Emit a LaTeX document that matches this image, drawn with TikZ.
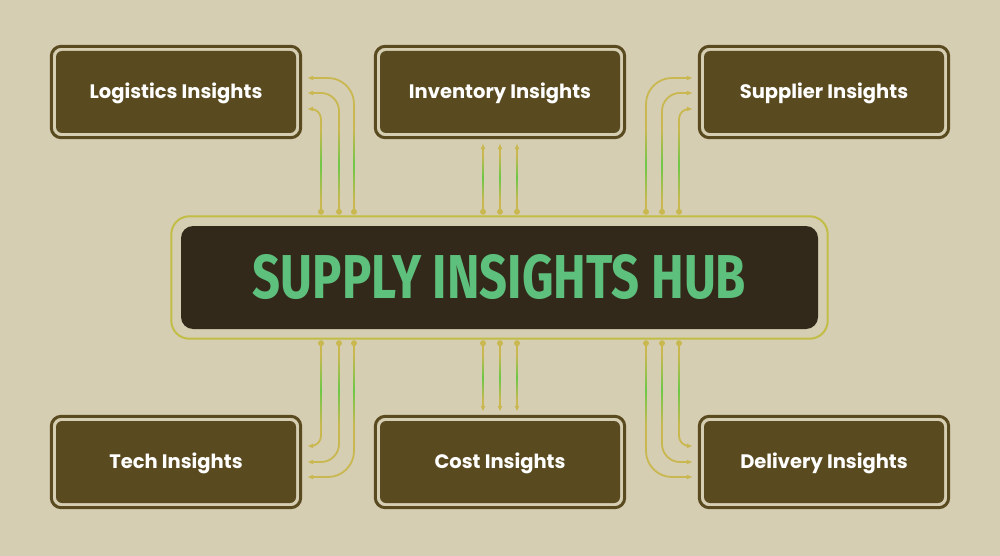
\documentclass[tikz,border=0pt]{standalone}
\usepackage{fontspec}
\usepackage{graphicx}
\setmainfont{Poppins}
\newfontfamily\titlefont{Fira Sans}
\usetikzlibrary{arrows.meta}

\definecolor{bgbeige}{HTML}{D6CEB3}
\definecolor{boxbrown}{HTML}{594A20}
\definecolor{hubdark}{HTML}{33291A}
\definecolor{hubgreen}{HTML}{5EC07D}
\definecolor{linkgold}{HTML}{C9B850}
\definecolor{linkgreen}{HTML}{6CC846}
\definecolor{framegold}{HTML}{C2BD45}

\tikzset{
  insight/.style={fill=boxbrown, rounded corners=6pt, minimum width=240pt,
    minimum height=82pt, text=white, text height=14pt, text depth=1pt,
    font=\bfseries\fontsize{19.5}{20}\selectfont},
  insightframe/.style={draw=boxbrown, line width=3pt, rounded corners=10pt},
  hubbox/.style={fill=hubdark, rounded corners=12pt, minimum width=637pt,
    minimum height=103pt, text=hubgreen},
  hubframe/.style={draw=framegold, line width=2pt, rounded corners=18pt},
  link/.style={draw=linkgold, line width=1.8pt, -{Latex[length=6pt,width=5pt]}},
}
\newcommand\glowline[3]{\shade[top color=linkgold, bottom color=linkgold,
  middle color=linkgreen] (#1-0.9,#2) rectangle (#1+0.9,#3);}

\begin{document}
\begin{tikzpicture}[x=1pt,y=-1pt]
 \fill[bgbeige] (0,0) rectangle (1000,556);
 \useasboundingbox (0,0) rectangle (1000,556);

 % insight boxes
 \node[insight] (logistics) at (176,92)  {Logistics Insights};
 \node[insight] (inventory) at (500,92)  {Inventory Insights};
 \node[insight] (supplier)  at (824,92)  {Supplier Insights};
 \node[insight] (tech)      at (176,462) {Tech Insights};
 \node[insight] (cost)      at (500,462) {Cost Insights};
 \node[insight] (delivery)  at (824,462) {Delivery Insights};
 \foreach \b in {logistics,inventory,supplier,tech,cost,delivery}
   \draw[insightframe] ([shift={(-4.5,-4.5)}]\b.north west) rectangle ([shift={(4.5,4.5)}]\b.south east);

 % hub
 \node[hubbox] (hub) at (499.5,277.5)
   {\titlefont\bfseries\fontsize{62}{62}\selectfont\scalebox{0.79}[1]{SUPPLY INSIGHTS HUB}};
 \draw[hubframe] ([shift={(-9.5,-9.5)}]hub.north west) rectangle ([shift={(9.5,9.5)}]hub.south east);

 % links up
 \foreach \x/\y/\r in {321/17/10, 339/1/18, 354/-14/26} {
   \draw[link, rounded corners=\r pt] ([yshift=14pt]\x,0 |- hub.north) |- ([shift={(11,\y)}]logistics.east);
   \glowline{\x}{200}{130}
   \fill[linkgold] ([yshift=14pt]\x,0 |- hub.north) circle (3pt);
 }
 \foreach \x/\y/\r in {679/17/10, 662/1/18, 646/-14/26} {
   \draw[link, rounded corners=\r pt] ([yshift=14pt]\x,0 |- hub.north) |- ([shift={(-11,\y)}]supplier.west);
   \glowline{\x}{200}{130}
   \fill[linkgold] ([yshift=14pt]\x,0 |- hub.north) circle (3pt);
 }
 \foreach \x in {483,500,517} {
   \draw[link] ([yshift=14pt]\x,0 |- hub.north) -- ([yshift=-10pt]\x,0 |- inventory.south);
   \glowline{\x}{200}{155}
   \fill[linkgold] ([yshift=14pt]\x,0 |- hub.north) circle (3pt);
 }

 % links down
 \foreach \x/\y/\r in {321/-16/10, 339/0/18, 354/15/26} {
   \draw[link, rounded corners=\r pt] ([yshift=-14pt]\x,0 |- hub.south) |- ([shift={(11,\y)}]tech.east);
   \glowline{\x}{355}{425}
   \fill[linkgold] ([yshift=-14pt]\x,0 |- hub.south) circle (3pt);
 }
 \foreach \x/\y/\r in {679/-16/10, 662/0/18, 646/15/26} {
   \draw[link, rounded corners=\r pt] ([yshift=-14pt]\x,0 |- hub.south) |- ([shift={(-11,\y)}]delivery.west);
   \glowline{\x}{355}{425}
   \fill[linkgold] ([yshift=-14pt]\x,0 |- hub.south) circle (3pt);
 }
 \foreach \x in {483,500,517} {
   \draw[link] ([yshift=-14pt]\x,0 |- hub.south) -- ([yshift=9pt]\x,0 |- cost.north);
   \glowline{\x}{355}{400}
   \fill[linkgold] ([yshift=-14pt]\x,0 |- hub.south) circle (3pt);
 }
\end{tikzpicture}
\end{document}
